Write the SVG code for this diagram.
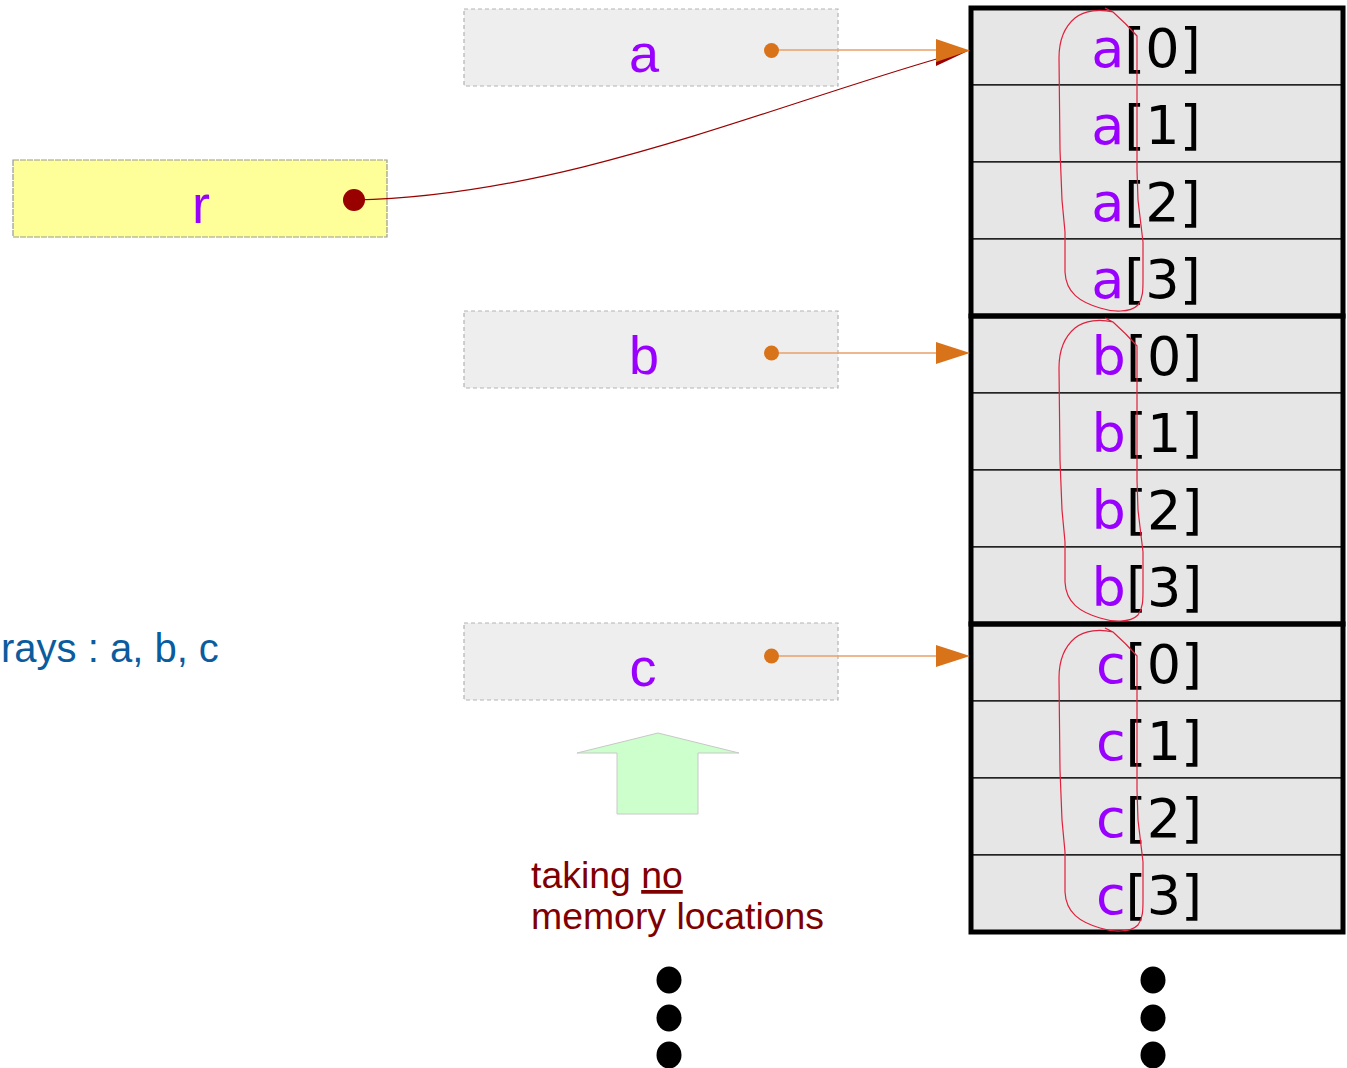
<svg xmlns="http://www.w3.org/2000/svg" width="1347" height="1068" viewBox="0 0 1347 1068">
<style>
.cell{fill:#e6e6e6;stroke:#000;stroke-width:1.2}
.grp{fill:none;stroke:#000;stroke-width:5}
.mem{font-family:"DejaVu Sans",sans-serif;font-size:54px;fill:#000;text-anchor:middle}
.nm{fill:#9900ff}
.var{fill:#eeeeee;stroke:#b3b3b3;stroke-width:1.2;stroke-dasharray:4,3}
.lbl{font-family:"Liberation Sans",Arial,sans-serif;font-size:54px;fill:#9900ff;text-anchor:middle}
.oline{fill:none;stroke:#e8a06a;stroke-width:1.5}
.ohead{fill:#d9731a}
.loop{fill:none;stroke:#e0203c;stroke-width:1.2}
.dot{fill:#000}
</style>
<defs>
<path id="loop" d="M1105,8 L1113,12 C1100,9 1085,10 1075,18 C1063,28 1059,42 1059,58 L1060,150 L1062,200 L1065,232 L1065,272 C1066,293 1080,302 1100,308 C1112,312 1130,313 1138,305 C1143,298 1143,290 1143,280 L1143,242 L1138,200 L1137,170 L1137,36 C1130,28 1122,20 1113,12"/>
</defs>
<g id="memory">
<rect class="cell" x="971" y="8" width="372" height="77"/>
<rect class="cell" x="971" y="85" width="372" height="77"/>
<rect class="cell" x="971" y="162" width="372" height="77"/>
<rect class="cell" x="971" y="239" width="372" height="77"/>
<rect class="cell" x="971" y="316" width="372" height="77"/>
<rect class="cell" x="971" y="393" width="372" height="77"/>
<rect class="cell" x="971" y="470" width="372" height="77"/>
<rect class="cell" x="971" y="547" width="372" height="77"/>
<rect class="cell" x="971" y="624" width="372" height="77"/>
<rect class="cell" x="971" y="701" width="372" height="77"/>
<rect class="cell" x="971" y="778" width="372" height="77"/>
<rect class="cell" x="971" y="855" width="372" height="77"/>
<rect class="grp" x="971" y="8" width="372" height="308"/>
<rect class="grp" x="971" y="316" width="372" height="308"/>
<rect class="grp" x="971" y="624" width="372" height="308"/>
<text class="mem" x="1146" y="67"><tspan class="nm">a</tspan>[0]</text>
<text class="mem" x="1146" y="144"><tspan class="nm">a</tspan>[1]</text>
<text class="mem" x="1146" y="221"><tspan class="nm">a</tspan>[2]</text>
<text class="mem" x="1146" y="298"><tspan class="nm">a</tspan>[3]</text>
<text class="mem" x="1147" y="375"><tspan class="nm">b</tspan>[0]</text>
<text class="mem" x="1147" y="452"><tspan class="nm">b</tspan>[1]</text>
<text class="mem" x="1147" y="529"><tspan class="nm">b</tspan>[2]</text>
<text class="mem" x="1147" y="606"><tspan class="nm">b</tspan>[3]</text>
<text class="mem" x="1149" y="683"><tspan class="nm">c</tspan>[0]</text>
<text class="mem" x="1149" y="760"><tspan class="nm">c</tspan>[1]</text>
<text class="mem" x="1149" y="837"><tspan class="nm">c</tspan>[2]</text>
<text class="mem" x="1149" y="914"><tspan class="nm">c</tspan>[3]</text>
</g>
<g id="loops">
<use href="#loop" class="loop"/>
<use href="#loop" class="loop" transform="translate(0,310)"/>
<use href="#loop" class="loop" transform="translate(0,620)"/>
</g>
<g id="var-r">
<rect x="13" y="160" width="374" height="77" fill="#ffff99" stroke="#999" stroke-width="1.2" stroke-dasharray="6,1"/>
<text class="lbl" x="201" y="223">r</text>
</g>
<g id="var-a">
<rect class="var" x="464" y="9" width="374" height="77"/>
<text class="lbl" x="644" y="72">a</text>
</g>
<g id="var-b">
<rect class="var" x="464" y="311" width="374" height="77"/>
<text class="lbl" x="644" y="374">b</text>
</g>
<g id="var-c">
<rect class="var" x="464" y="623" width="374" height="77"/>
<text class="lbl" x="643" y="686">c</text>
</g>
<g id="connectors">
<path d="M355,200 C560,196 760,110 940,58" fill="none" stroke="#990000" stroke-width="1.2"/>
<polygon points="936,54 970,50 936,66" fill="#990000"/>
<circle cx="354" cy="200" r="11" fill="#990000"/>
<path class="oline" d="M772,50 L940,50"/>
<polygon class="ohead" points="936,39 970,50.5 936,62"/>
<circle cx="771.5" cy="50.5" r="7.5" class="ohead"/>
<path class="oline" d="M772,353 L940,353"/>
<polygon class="ohead" points="936,342 970,353 936,364"/>
<circle cx="771.5" cy="353" r="7.5" class="ohead"/>
<path class="oline" d="M772,656 L940,656"/>
<polygon class="ohead" points="936,645 970,656 936,667"/>
<circle cx="771.5" cy="656" r="7.5" class="ohead"/>
</g>
<g id="green-arrow">
<polygon points="658,733 739,753 698,753 698,814 617,814 617,753 577,753" fill="#ccffcc" stroke="#c8c8c8" stroke-width="1"/>
</g>
<g id="note">
<text x="531" y="888" font-family="Liberation Sans,Arial,sans-serif" font-size="37.4" fill="#800000">taking <tspan text-decoration="underline">no</tspan></text>
<text x="531" y="929" font-family="Liberation Sans,Arial,sans-serif" font-size="37.4" fill="#800000">memory locations</text>
</g>
<g id="title">
<text x="1" y="662" font-family="Liberation Sans,Arial,sans-serif" font-size="40" fill="#0b5c9e">rays : a, b, c</text>
</g>
<g id="ellipsis">
<ellipse class="dot" cx="669" cy="980" rx="12.5" ry="13.5"/>
<ellipse class="dot" cx="669" cy="1018" rx="12.5" ry="13.5"/>
<ellipse class="dot" cx="669" cy="1055" rx="12.5" ry="13.5"/>
<ellipse class="dot" cx="1153" cy="980" rx="12.5" ry="13.5"/>
<ellipse class="dot" cx="1153" cy="1018" rx="12.5" ry="13.5"/>
<ellipse class="dot" cx="1153" cy="1055" rx="12.5" ry="13.5"/>
</g>
</svg>
